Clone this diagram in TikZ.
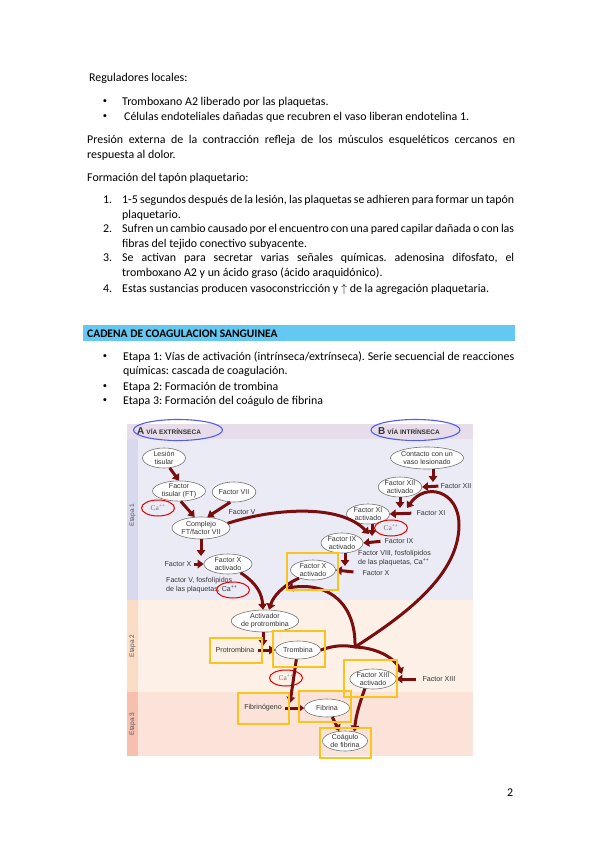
\documentclass[tikz,border=0pt]{standalone}
\usepackage{fontspec}
\setmainfont{Carlito}
\newfontfamily\diagfont{Liberation Sans}
\newfontfamily\caserif{Liberation Serif}
\usetikzlibrary{shapes.geometric,arrows.meta,positioning}
\definecolor{flecha}{RGB}{122,14,14}
\definecolor{amarillo}{RGB}{250,196,30}
\definecolor{azulbarra}{RGB}{99,200,242}
\definecolor{azulvia}{RGB}{85,95,230}
\definecolor{banda0}{RGB}{230,220,234}
\definecolor{banda1}{RGB}{235,235,246}
\definecolor{tira1}{RGB}{217,217,238}
\definecolor{banda2}{RGB}{253,241,231}
\definecolor{tira2}{RGB}{251,220,197}
\definecolor{banda3}{RGB}{251,227,217}
\definecolor{tira3}{RGB}{246,191,174}
\frenchspacing

\begin{document}
\begin{tikzpicture}[x=1pt,y=-1pt,
  txt/.style={anchor=base west,inner sep=0pt,font=\fontsize{11.9}{15}\selectfont},
  marca/.style={inner sep=0pt,font=\fontsize{8.5}{15}\selectfont},
  fac/.style 2 args={ellipse,draw=black!55,fill=white,line width=0.6pt,inner sep=0pt,
    minimum width=#1,minimum height=#2,align=center,
    font=\diagfont\fontsize{7.1}{7.9}\selectfont,text=black!80},
  lab/.style={inner sep=0pt,align=left,font=\diagfont\fontsize{7.1}{9}\selectfont,text=black!80},
  calcio/.style={ellipse,draw=red!90!black,line width=1pt,inner sep=0pt,
    minimum width=33pt,minimum height=16pt,font=\caserif\fontsize{7.5}{7.5}\selectfont,text=black!55},
  via/.style={ellipse,draw=azulvia,line width=1.1pt,minimum width=89pt,minimum height=21pt,inner sep=0pt},
  cab/.style={anchor=base west,inner sep=0pt,font=\diagfont\bfseries\fontsize{6.5}{7}\selectfont,text=black!80},
  marco/.style={draw=amarillo,line width=1.4pt},
  flujo/.style={draw=flecha,line width=3pt,-{Triangle[length=6pt,width=8.5pt]}},
  etapa/.style={rotate=90,inner sep=0pt,font=\diagfont\fontsize{6.5}{6.5}\selectfont,text=black!65}]
\useasboundingbox (0,0) rectangle (599,848);
\fill[white] (0,0) rectangle (599,848);

% texto de la pagina
\node[txt] (reg) at (89,81.5) {Reguladores locales:};
\node[marca] (b1) at (105,102) {\textbullet};
\node[txt] (reg1) at (122,105.5) {Tromboxano A2 liberado por las plaquetas.};
\node[marca] (b2) at (105,117) {\textbullet};
\node[txt] (reg2) at (124,120.5) {Células endoteliales dañadas que recubren el vaso liberan endotelina 1.};
\node[txt] (pres1) at (87,143.5) {\makebox[428pt][s]{Presión externa de la contracción refleja de los músculos esqueléticos cercanos en}};
\node[txt] (pres2) at (87,158.5) {respuesta al dolor.};
\node[txt] (form) at (87,181.5) {Formación del tapón plaquetario:};
\node[txt] (n1) at (103,203.5) {1.};
\node[txt] (p1a) at (122,203.5) {\makebox[392pt][s]{1-5 segundos después de la lesión, las plaquetas se adhieren para formar un tapón}};
\node[txt] (p1b) at (122,218.5) {plaquetario.};
\node[txt] (n2) at (103,232.5) {2.};
\node[txt] (p2a) at (122,232.5) {\makebox[392pt][s]{Sufren un cambio causado por el encuentro con una pared capilar dañada o con las}};
\node[txt] (p2b) at (122,247.5) {fibras del tejido conectivo subyacente.};
\node[txt] (n3) at (103,261.5) {3.};
\node[txt] (p3a) at (122,261.5) {\makebox[392pt][s]{Se activan para secretar varias señales químicas. adenosina difosfato, el}};
\node[txt] (p3b) at (122,276.5) {tromboxano A2 y un ácido graso (ácido araquidónico).};
\node[txt] (n4) at (103,292.5) {4.};
\node[txt] (p4) at (122,292.5) {Estas sustancias producen vasoconstricción y $\uparrow$ de la agregación plaquetaria.};

\fill[azulbarra] (83,325) rectangle (515,341);
\node[txt,font=\bfseries\fontsize{11.5}{12}\selectfont] (tit) at (87,337) {CADENA DE COAGULACION SANGUINEA};
\node[marca] (b3) at (105,357) {\textbullet};
\node[txt] (e1a) at (123,360.5) {\makebox[391pt][s]{Etapa 1: Vías de activación (intrínseca/extrínseca). Serie secuencial de reacciones}};
\node[txt] (e1b) at (123,374.5) {químicas: cascada de coagulación.};
\node[marca] (b4) at (105,387) {\textbullet};
\node[txt] (e2) at (123,390.5) {Etapa 2: Formación de trombina};
\node[marca] (b5) at (105,401) {\textbullet};
\node[txt] (e3) at (123,404.5) {Etapa 3: Formación del coágulo de fibrina};
\node[txt] (pag) at (507,796.5) {2};

% fondo del esquema
\fill[banda0] (127,424) rectangle (473,439);
\fill[banda1] (127,439) rectangle (473,600);
\fill[tira1] (127,439) rectangle (138,600);
\fill[banda2] (127,600) rectangle (473,692);
\fill[tira2] (127,600) rectangle (138,692);
\fill[banda3] (127,692) rectangle (473,756);
\fill[tira3] (127,692) rectangle (138,756);
\node[etapa] (et1) at (132.5,515) {Etapa 1};
\node[etapa] (et2) at (132.5,646) {Etapa 2};
\node[etapa] (et3) at (132.5,724) {Etapa 3};

\node[cab] (titA) at (137,434.5) {{\fontsize{10}{10}\selectfont A}\hspace{2pt}VÍA EXTRÍNSECA};
\node[cab] (titB) at (378,434.5) {{\fontsize{10}{10}\selectfont B}\hspace{2pt}VÍA INTRÍNSECA};

% via extrinseca
\node[fac={43pt}{20pt}] (les) at (164,458) {Lesión\\tisular};
\node[fac={53pt}{20pt}] (ft) at (179,491) {Factor\\tisular (FT)};
\node[fac={43pt}{20pt}] (f7) at (234,492) {Factor VII};
\node[calcio] (ca1) at (158,508) {Ca\textsuperscript{++}};
\node[lab] (f5t) at (242,512) {Factor V};
\node[fac={58pt}{22pt}] (comp) at (201,528) {Complejo\\FT/factor VII};
\node[lab] (fxt1) at (178,564) {Factor X};
\node[fac={48pt}{20pt}] (fxa1) at (228,564) {Factor X\\activado};
\node[lab,anchor=north west] (f5p) at (166,577.5) {Factor V, fosfolípidos\\de las plaquetas, Ca\textsuperscript{++}};

% via intrinseca
\node[fac={73pt}{22pt}] (cont) at (427,458) {Contacto con un\\vaso lesionado};
\node[fac={42pt}{20pt}] (f12a) at (400,487) {Factor XII\\activado};
\node[lab] (f12t) at (456,486) {Factor XII};
\node[fac={43pt}{20pt}] (f11a) at (368,514) {Factor XI\\activado};
\node[lab] (f11t) at (431,513) {Factor XI};
\node[calcio] (ca4) at (391,528) {Ca\textsuperscript{++}};
\node[fac={42pt}{20pt}] (f9a) at (342,543) {Factor IX\\activado};
\node[lab] (f9t) at (399,541) {Factor IX};
\node[lab,anchor=north west] (f8p) at (358,550) {Factor VIII, fosfolípidos\\de las plaquetas, Ca\textsuperscript{++}};
\node[lab] (fxt2) at (376,573) {Factor X};
\node[fac={45pt}{20pt}] (fxa2) at (313,570) {Factor X\\activado};

% etapas 2 y 3
\node[fac={55pt}{22pt}] (act) at (265,621) {Activador\\de protrombina};
\node[lab] (prot) at (235,650) {Protrombina};
\node[fac={45pt}{18pt}] (tromb) at (298,650) {Trombina};
\node[calcio] (ca3) at (286,678) {Ca\textsuperscript{++}};
\node[lab] (fibg) at (263,708) {Fibrinógeno};
\node[fac={45pt}{18pt}] (fib) at (327,708) {Fibrina};
\node[fac={45pt}{20pt}] (coag) at (345,741) {Coágulo\\de fibrina};
\node[fac={44pt}{20pt}] (f13a) at (373,679) {Factor XIII\\activado};
\node[lab] (f13t) at (439,679) {Factor XIII};

% puntos de llegada
\coordinate (c1) at (201,556);
\coordinate (c2) at (369,534);
\coordinate (c3) at (433,482);
\coordinate (c4) at (400,508);
\coordinate (c6) at (407,508);
\coordinate (c7) at (372,536);
\coordinate (c8) at (345,566);
\coordinate (c9) at (287,588);
\coordinate (c10) at (263,646);
\coordinate (c11) at (290,703);
\coordinate (c12) at (402,674);
\coordinate (j) at (355,647);
\coordinate (l1) at (459,525);

% flechas
\draw[flujo] (les.-60) -- (ft.north);
\draw[flujo] (ft.-80) -- (comp.120);
\draw[flujo] (f7.-110) -- (comp.60);
\draw[flujo] (comp.south) -- (c1);
\draw[flujo,shorten <=2pt] (fxt1.east) -- (fxa1.west);
\draw[flujo] (fxa1.-35) .. controls (258,584) and (262,595) .. (act.100);
\draw[flujo] (fxa2.-150) .. controls (282,586) and (273,597) .. (act.70);
\draw[flujo] (comp.10) .. controls (275,508) and (340,504) .. (c2);
\draw[flujo] (c3 |- cont.south) -- (c3);
\draw[flujo,shorten <=2pt] (f12t.west) -- (f12a.east);
\draw[flujo] (f12a.south) -- (c4);
\draw[flujo] (j) .. controls (405,615) and (459,575) .. (l1) .. controls (459,490) and (425,482) .. (c6);
\draw[flujo,shorten <=5pt] (f11t.west) -- (f11a.east);
\draw[flujo] (c7 |- f11a.south) -- (c7);
\draw[flujo,shorten <=4pt] (f9t.west) -- (f9a.east);
\draw[flujo] (c8 |- f9a.south) -- (c8);
\draw[flujo,shorten <=9pt] (fxt2.west) -- (fxa2.east);
\draw[flujo] (j) .. controls (356,605) and (330,582) .. (c9);
\draw[flujo] (tromb.east) .. controls (335,645) and (345,645) .. (j) .. controls (380,648) and (396,660) .. (c12);
\draw[flujo,shorten <=6pt] (f13t.west) -- (f13a.east);
\draw[flujo] (c10 |- act.south) -- (c10);
\draw[flujo,shorten <=3pt] (prot.east) -- (tromb.west);
\draw[flujo] (tromb.-100) -- (c11);
\draw[flujo,shorten <=3pt] (fibg.east) -- (fib.west);
\draw[flujo] (fib.-60) -- (coag.120);
\draw[flujo] (f13a.-130) .. controls (360,702) and (356,715) .. (coag.45);

% marcas encima
\node[via] (viaA) at (178,430) {};
\node[via] (viaB) at (415.5,430) {};
\node[calcio] (ca2) at (233,590) {};
\draw[marco] (210,638) rectangle (262,663);
\draw[marco] (273,631) rectangle (325,667);
\draw[marco] (238,693) rectangle (289,724);
\draw[marco] (299,691) rectangle (351,722);
\draw[marco] (320,728) rectangle (371,758);
\draw[marco] (344,660) rectangle (397,697);
\draw[marco] (287,553) rectangle (338,590);
\end{tikzpicture}
\end{document}
